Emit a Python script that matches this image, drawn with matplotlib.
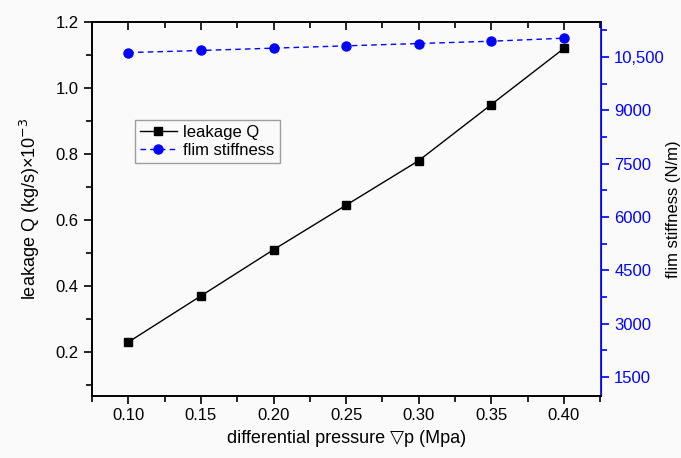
import matplotlib.pyplot as plt
import matplotlib.lines as mlines
from matplotlib.ticker import FixedLocator, MultipleLocator

plt.rcParams['font.family'] = ['Liberation Sans', 'DejaVu Sans']

pressure = [0.10, 0.15, 0.20, 0.25, 0.30, 0.35, 0.40]
leakage = [0.23, 0.37, 0.51, 0.645, 0.78, 0.95, 1.12]
stiffness = [10620, 10680, 10745, 10810, 10875, 10940, 11025]

stiff_ticks = [1500, 3000, 4500, 6000, 7500, 9000, 10500]
stiff_labels = ['1500', '3000', '4500', '6000', '7500', '9000', '10,500']

fig = plt.figure(figsize=(6.81, 4.58), dpi=100, facecolor='#fafafa')
ax = fig.add_axes([92 / 681, 1 - 396 / 458, 509 / 681, 374 / 458])
ax.set_facecolor('#fafafa')
ax2 = ax.twinx()

l1, = ax.plot(pressure, leakage, '-', color='black', lw=1.0, marker='s',
              ms=6, label='leakage Q', zorder=3)
l2, = ax2.plot(pressure, stiffness, '--', color='blue', lw=1.0, marker='o',
               ms=6.5, label='flim stiffness', dashes=(4, 3))

ax.set_xlim(0.075, 0.4255)
ax.set_ylim(0.0667, 1.2)
ax2.set_ylim(970, 11480)

ax.xaxis.set_major_locator(FixedLocator(pressure))
ax.set_xticklabels([f'{p:.2f}' for p in pressure])
ax.xaxis.set_minor_locator(MultipleLocator(0.025))
ax.yaxis.set_major_locator(MultipleLocator(0.2))
ax.yaxis.set_minor_locator(MultipleLocator(0.1))
ax.tick_params(axis='x', which='both', direction='out', labelsize=12, pad=3)
ax.tick_params(axis='y', which='both', direction='out', labelsize=12)
ax.tick_params(which='major', length=6, width=1.2)
ax.tick_params(which='minor', length=4, width=1.2)

# inward tick marks along the top edge, at the same spots as the x ticks
lo, hi = ax.get_xlim()
xt = ax2.get_xaxis_transform()
major = [x for x in ax.xaxis.get_majorticklocs() if lo <= x <= hi]
minor = [x for x in ax.xaxis.get_minorticklocs() if lo <= x <= hi]
ax2.plot(major, [1] * len(major), ls='none', marker=mlines.TICKDOWN, ms=6,
         mew=1.2, color='black', transform=xt, clip_on=False, zorder=5)
ax2.plot(minor, [1] * len(minor), ls='none', marker=mlines.TICKDOWN, ms=4,
         mew=1.2, color='black', transform=xt, clip_on=False, zorder=5)
ax2.set_xlim(lo, hi)

ax2.yaxis.set_major_locator(FixedLocator(stiff_ticks))
ax2.set_yticklabels(stiff_labels)
ax2.yaxis.set_minor_locator(MultipleLocator(750))
ax2.tick_params(axis='y', which='both', direction='out', colors='blue',
                labelsize=12, width=1.2)
ax2.tick_params(axis='y', which='major', length=6)
ax2.tick_params(axis='y', which='minor', length=4)

for s in ['left', 'bottom', 'top']:
    ax.spines[s].set_linewidth(1.2)
    ax2.spines[s].set_linewidth(1.2)
ax2.spines['right'].set_color('blue')
ax2.spines['right'].set_linewidth(1.2)

ax.set_xlabel('differential pressure ▽p (Mpa)', fontsize=13, labelpad=5)
ax.set_ylabel('leakage Q (kg/s)×10$^{-3}$', fontsize=13, labelpad=10)
ax2.set_ylabel('flim stiffness (N/m)', fontsize=12, labelpad=1)

leg = ax.legend(handles=[l1, l2], loc='upper left', bbox_to_anchor=(0.068, 0.76),
                fontsize=12, frameon=True, fancybox=False, handlelength=2.2,
                borderpad=0.3, labelspacing=0.15, handletextpad=0.4)
leg.get_frame().set_edgecolor('#888888')
leg.get_frame().set_facecolor('#fafafa')

fig.savefig('out.png', dpi=100, facecolor=fig.get_facecolor())
